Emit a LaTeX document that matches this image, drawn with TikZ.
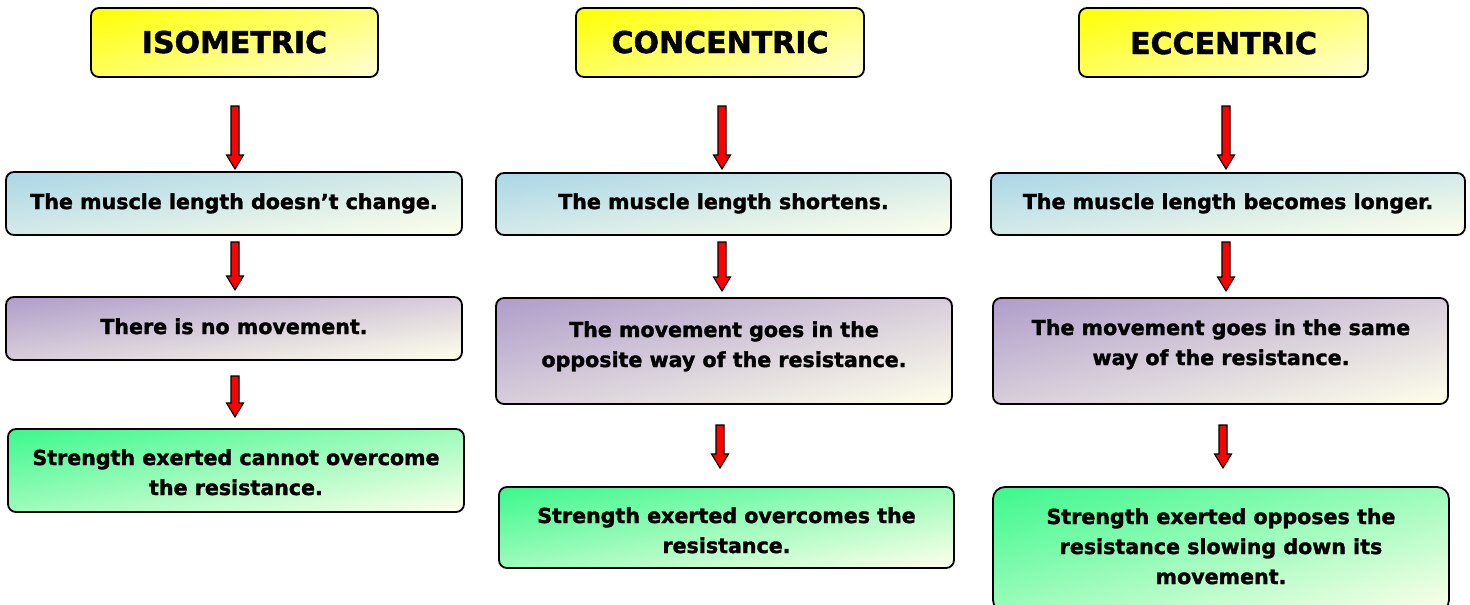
\documentclass[tikz,border=0pt]{standalone}
\usepackage{fontspec}
\setmainfont{DejaVu Sans}[BoldFeatures={FakeBold=1.6}]
\usetikzlibrary{shadings}
\definecolor{hdrA}{RGB}{255,255,0}
\definecolor{hdrB}{RGB}{255,255,215}
\definecolor{blA}{RGB}{170,214,230}
\definecolor{puA}{RGB}{175,157,202}
\definecolor{grA}{RGB}{60,248,140}
\definecolor{crm}{RGB}{255,255,235}
\definecolor{arrowred}{RGB}{255,0,0}
\tikzset{
  box/.style={draw=black, line width=1.8pt, rounded corners=8pt, inner sep=0pt},
  hdrbox/.style={box, upper left=hdrA, lower right=hdrB, upper right=hdrA!45!hdrB, lower left=hdrA!55!hdrB},
  bluebox/.style={box, upper left=blA, lower right=crm, upper right=blA!50!crm, lower left=blA!50!crm},
  purplebox/.style={box, upper left=puA, lower right=crm, upper right=puA!50!crm, lower left=puA!50!crm},
  greenbox/.style={box, upper left=grA, lower right=crm, upper right=grA!50!crm, lower left=grA!50!crm},
  hdrtext/.style={inner sep=0pt, font=\bfseries\fontsize{30}{35}\selectfont, anchor=base},
  bodytext/.style={inner sep=0pt, font=\bfseries\fontsize{20.6}{30}\selectfont, align=center},
  blockarrow/.style={draw=black, line width=1.1pt, fill=arrowred, line join=miter},
}
\newcommand{\downblock}[3]{%
  \draw[blockarrow] (#1-4,#2) -- (#1+4,#2) -- (#1+4,#3-14) -- (#1+8.5,#3-14) -- (#1,#3)
    -- (#1-8.5,#3-14) -- (#1-4,#3-14) -- cycle;}
\begin{document}
\begin{tikzpicture}[x=1pt,y=-1pt]
\useasboundingbox (0,0) rectangle (1470,605);
% ---------- column 1 ----------
\node[hdrbox, minimum width=287pt, minimum height=69pt] (h1) at (234.5,42.5) {};
\node[hdrtext] (th1) at (234.5,53) {ISOMETRIC};
\node[bluebox, minimum width=456pt, minimum height=63pt] (b11) at (234,203.5) {};
\node[bodytext, anchor=base] (t11) at (234,209) {The muscle length doesn’t change.};
\node[purplebox, minimum width=456pt, minimum height=63pt] (b12) at (234,328.5) {};
\node[bodytext, anchor=base] (t12) at (234,334) {There is no movement.};
\node[greenbox, minimum width=456pt, minimum height=83pt] (b13) at (236,470.5) {};
\node[bodytext] (t13) at (236,474) {\strut Strength exerted cannot overcome\\the resistance.\strut};
\downblock{235}{106}{169}
\downblock{235}{242}{290}
\downblock{235}{376}{417}
% ---------- column 2 ----------
\node[hdrbox, minimum width=288pt, minimum height=69pt] (h2) at (720,42.5) {};
\node[hdrtext] (th2) at (720,53) {CONCENTRIC};
\node[bluebox, minimum width=455pt, minimum height=62pt] (b21) at (723.5,204) {};
\node[bodytext, anchor=base] (t21) at (723.5,209) {The muscle length shortens.};
\node[purplebox, minimum width=456pt, minimum height=106pt] (b22) at (724,351) {};
\node[bodytext] (t22) at (724,346) {\strut The movement goes in the\\opposite way of the resistance.\strut};
\node[greenbox, minimum width=455pt, minimum height=81pt] (b23) at (726.5,527.5) {};
\node[bodytext] (t23) at (726.5,532) {\strut Strength exerted overcomes the\\resistance.\strut};
\downblock{722}{106}{169}
\downblock{722}{242}{291}
\downblock{720}{425}{468}
% ---------- column 3 ----------
\node[hdrbox, minimum width=289pt, minimum height=69pt] (h3) at (1223.5,42.5) {};
\node[hdrtext] (th3) at (1223.5,54) {ECCENTRIC};
\node[bluebox, minimum width=474pt, minimum height=62pt] (b31) at (1228,204) {};
\node[bodytext, anchor=base] (t31) at (1228,209) {The muscle length becomes longer.};
\node[purplebox, minimum width=455pt, minimum height=106pt] (b32) at (1220.5,351) {};
\node[bodytext] (t32) at (1221,344) {\strut The movement goes in the same\\way of the resistance.\strut};
\node[greenbox, minimum width=456pt, minimum height=125pt, rounded corners=12pt] (b33) at (1221,549.5) {};
\node[bodytext] (t33) at (1221,548) {\strut Strength exerted opposes the\\resistance slowing down its\\movement.\strut};
\downblock{1226}{106}{169}
\downblock{1226}{242}{291}
\downblock{1223}{425}{468}
\end{tikzpicture}
\end{document}
